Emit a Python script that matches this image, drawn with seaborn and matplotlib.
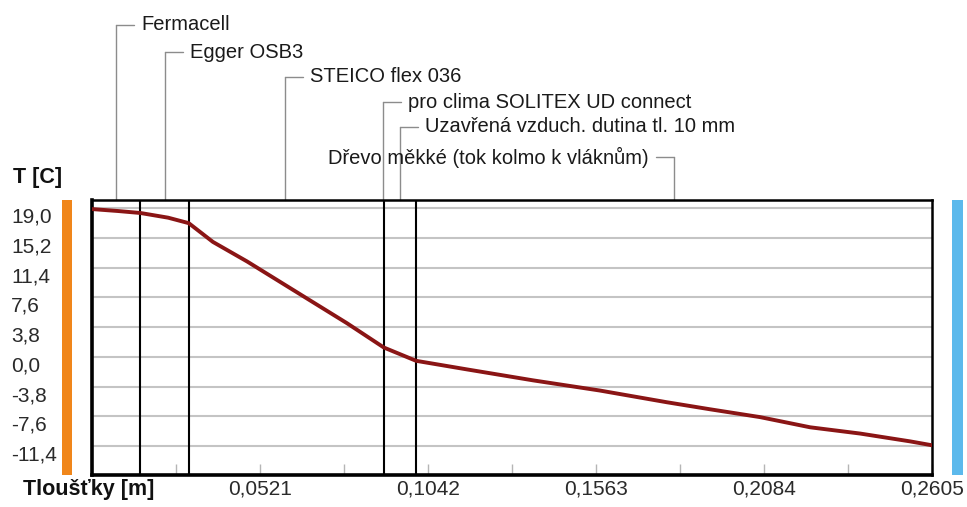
"""Temperature profile through a wall build-up (interior -> exterior)."""

import matplotlib
matplotlib.use("Agg")
import matplotlib.pyplot as plt
import matplotlib.transforms as mtransforms
from matplotlib.patches import Rectangle
import pandas as pd
import seaborn as sns

# --- layers, interior -> exterior ---
layer_names = [
    "Fermacell",
    "Egger OSB3",
    "STEICO flex 036",
    "pro clima SOLITEX UD connect",
    "Uzavřená vzduch. dutina tl. 10 mm",
    "Dřevo měkké (tok kolmo k vláknům)",
]
layer_edges = [0.0, 0.015, 0.030, 0.090, 0.0905, 0.1005, 0.2605]

# --- temperature profile ---
depth = [0.0, 0.0081, 0.015, 0.0236, 0.030, 0.0375, 0.0481, 0.0583, 0.0685,
         0.0791, 0.0905, 0.1005, 0.1163, 0.1368, 0.1575, 0.1783, 0.1917,
         0.2072, 0.2227, 0.2382, 0.2537, 0.2605]
temperature = [18.9, 18.65, 18.4, 17.8, 17.1, 14.7, 12.2, 9.6, 7.0,
               4.3, 1.2, -0.5, -1.6, -3.0, -4.3, -5.8, -6.7,
               -7.7, -9.0, -9.8, -10.8, -11.3]

y_ticks = [19.0, 15.2, 11.4, 7.6, 3.8, 0.0, -3.8, -7.6, -11.4]
x_ticks = [0.0521, 0.1042, 0.1563, 0.2084, 0.2605]
x_minor = [0.0, 0.02605, 0.07815, 0.13025, 0.18235, 0.23445]

sns.set_theme(style="white")
plt.rcParams["font.family"] = ["Liberation Sans", "DejaVu Sans"]

W, H = 967, 507
fig = plt.figure(figsize=(W / 100, H / 100), dpi=100)
fig.patch.set_facecolor("white")
ax = fig.add_axes([92 / W, 1 - 475 / H, 840 / W, 275 / H])

df = pd.DataFrame({"x": depth, "T": temperature})
sns.lineplot(data=df, x="x", y="T", ax=ax, color="#8a1515", lw=2.8,
             sort=False, zorder=5)

ax.set_xlim(0, 0.2605)
ax.set_ylim(-15.1, 20.06)
ax.set_xlabel("")
ax.set_ylabel("")

# layer boundaries (very thin membranes share one line)
last = 0.0
for e in layer_edges[1:-1]:
    if e - last < 0.002:
        continue
    ax.axvline(e if e != 0.090 else 0.0905, color="black", lw=1.5, zorder=4)
    last = e

# grid / ticks
ax.set_axisbelow(True)
ax.set_yticks(y_ticks)
ax.set_yticklabels([f"{v:.1f}".replace(".", ",") for v in y_ticks])
ax.yaxis.grid(True, color="#c4c4c4", lw=1.5)
ax.xaxis.grid(False)
ax.set_xticks(x_ticks)
ax.set_xticklabels([f"{v:.4f}".replace(".", ",") for v in x_ticks])
ax.set_xticks(x_minor, minor=True)
ax.tick_params(axis="y", length=0, pad=58.3, labelsize=15, labelcolor="#2a2a2a")
ax.tick_params(axis="x", which="both", direction="in", length=8, width=1,
               color="#b5b5b5", pad=3, labelsize=15, labelcolor="#2a2a2a",
               bottom=True)

for side in ["left", "bottom"]:
    ax.spines[side].set_linewidth(2.6)
    ax.spines[side].set_color("black")
for side in ["top", "right"]:
    ax.spines[side].set_linewidth(1.8)
    ax.spines[side].set_color("black")

shift = mtransforms.ScaledTranslation(0, -7 / 100, fig.dpi_scale_trans)
for lbl in ax.get_yticklabels():
    lbl.set_horizontalalignment("left")
    lbl.set_transform(lbl.get_transform() + shift)

# --- layer labels with leader lines ---
label_rows = [25, 52, 77, 102, 127, 157]
label_side = ["right", "right", "right", "right", "right", "left"]
px = 0.2605 / 840
trans = mtransforms.blended_transform_factory(ax.transData, fig.transFigure)
y_top = 1 - 200 / H
for name, lo, hi, row, sd in zip(layer_names, layer_edges[:-1], layer_edges[1:],
                                 label_rows, label_side):
    mid = (lo + hi) / 2
    y = 1 - row / H
    ax.plot([mid, mid], [y, y_top], transform=trans, clip_on=False,
            color="#8c8c8c", lw=1)
    if sd == "right":
        ax.plot([mid, mid + 18 * px], [y, y], transform=trans, clip_on=False,
                color="#8c8c8c", lw=1)
        ax.text(mid + 25 * px, y, name, transform=trans, ha="left", va="center",
                fontsize=14.5, color="#1a1a1a")
    else:
        ax.plot([mid - 18 * px, mid], [y, y], transform=trans, clip_on=False,
                color="#8c8c8c", lw=1)
        ax.text(mid - 25 * px, y, name, transform=trans, ha="right", va="center",
                fontsize=14.5, color="#1a1a1a")

# axis titles
fig.text(13 / W, 1 - 177 / H, "T [C]", ha="left", va="center",
         fontsize=15.5, fontweight="bold", color="#111111")
fig.text(23 / W, 1 - 490 / H, "Tloušťky [m]", ha="left", va="center",
         fontsize=15.5, fontweight="bold", color="#111111")

# interior / exterior colour bars
fig.add_artist(Rectangle((62 / W, 1 - 475 / H), 10 / W, 275 / H,
                         transform=fig.transFigure, color="#f0861a", lw=0))
fig.add_artist(Rectangle((952 / W, 1 - 475 / H), 11 / W, 275 / H,
                         transform=fig.transFigure, color="#5cb9ec", lw=0))

fig.savefig("out.png", dpi=100)
plt.close(fig)
